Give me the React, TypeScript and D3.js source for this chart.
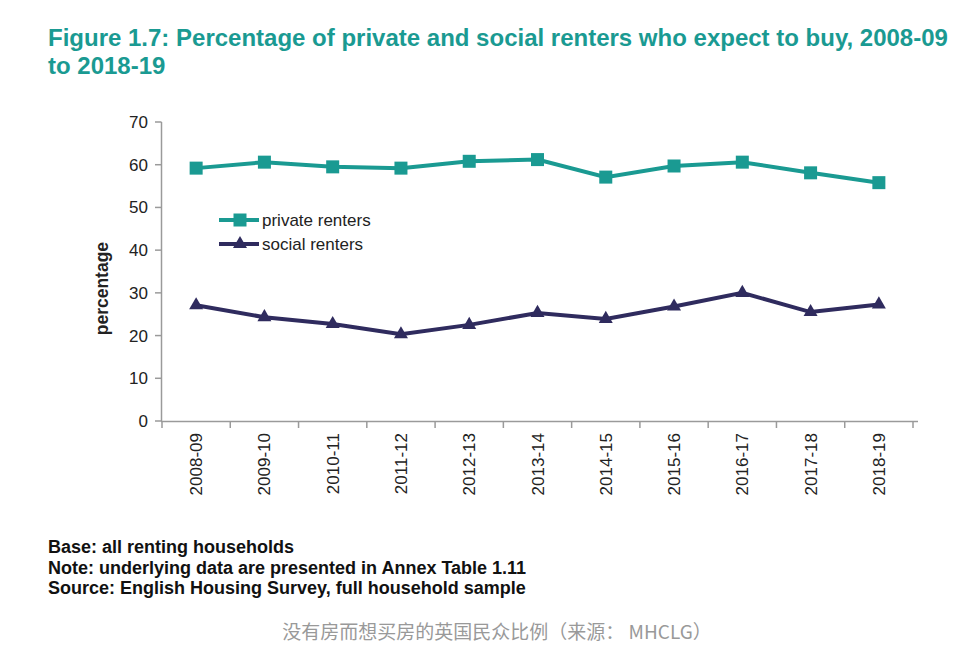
import React from "react";
import * as d3 from "d3";

const categories = ["2008-09","2009-10","2010-11","2011-12","2012-13","2013-14","2014-15","2015-16","2016-17","2017-18","2018-19"];
const privateRenters = [59.2, 60.6, 59.5, 59.2, 60.8, 61.2, 57.1, 59.7, 60.6, 58.1, 55.8];
const socialRenters = [27.1, 24.3, 22.7, 20.3, 22.5, 25.3, 23.9, 26.8, 30.0, 25.5, 27.3];
const yTicks = [0, 10, 20, 30, 40, 50, 60, 70];
const footnotes = [
  "Base: all renting households",
  "Note: underlying data are presented in Annex Table 1.11",
  "Source: English Housing Survey, full household sample",
];

const W = 958, H = 649;
const TEAL = "#1a9a92";
const NAVY = "#2f2b5e";
const AXIS = "#9a9a9a";

export default function App() {
  const x = d3.scaleBand().domain(categories).range([162, 913]);
  const y = d3.scaleLinear().domain([0, 70]).range([421, 122]);
  const cx = (c: string) => (x(c) as number) + x.bandwidth() / 2;
  const line = d3.line<number>().x((_, i) => cx(categories[i])).y((d) => y(d));
  const tri = d3.symbol().type(d3.symbolTriangle).size(85)() as string;
  const font = "'Liberation Sans', Arial, sans-serif";

  return (
    <svg width={W} height={H} style={{ position: "absolute", left: 0, top: 0, background: "#fff" }} fontFamily={font}>
      <rect width={W} height={H} fill="#fff" />
      <text x={48} y={46} fill={TEAL} fontSize={24} fontWeight="bold">
        Figure 1.7: Percentage of private and social renters who expect to buy, 2008-09
      </text>
      <text x={48} y={74} fill={TEAL} fontSize={24} fontWeight="bold">to 2018-19</text>

      {/* y axis */}
      <line x1={161.5} x2={161.5} y1={y(70)} y2={y(0)} stroke={AXIS} strokeWidth={1.5} />
      {yTicks.map((t) => (
        <g key={t}>
          <line x1={155} x2={161.5} y1={y(t)} y2={y(t)} stroke={AXIS} strokeWidth={1.5} />
          <text x={148} y={y(t) + 6} textAnchor="end" fontSize={17} fill="#222">{t}</text>
        </g>
      ))}
      <text transform={`translate(108,${y(31)}) rotate(-90)`} textAnchor="middle" fontSize={17.5} fontWeight="bold" fill="#222">percentage</text>

      {/* x axis */}
      <line x1={161} x2={918} y1={y(0) + 0.5} y2={y(0) + 0.5} stroke={AXIS} strokeWidth={1.5} />
      {categories.map((c) => (
        <g key={c}>
          <line x1={x(c) as number} x2={x(c) as number} y1={y(0)} y2={y(0) + 7} stroke={AXIS} strokeWidth={1.5} />
          <text transform={`translate(${cx(c) + 6},${y(0) + 12}) rotate(-90)`} textAnchor="end" fontSize={17} fill="#222">{c}</text>
        </g>
      ))}
      <line x1={913} x2={913} y1={y(0)} y2={y(0) + 7} stroke={AXIS} strokeWidth={1.5} />

      {/* series */}
      <path d={line(privateRenters) as string} fill="none" stroke={TEAL} strokeWidth={4} />
      {privateRenters.map((v, i) => (
        <rect key={i} x={cx(categories[i]) - 6.5} y={y(v) - 6.5} width={13} height={13} fill={TEAL} />
      ))}
      <path d={line(socialRenters) as string} fill="none" stroke={NAVY} strokeWidth={4} />
      {socialRenters.map((v, i) => (
        <path key={i} d={tri} transform={`translate(${cx(categories[i])},${y(v)})`} fill={NAVY} />
      ))}

      {/* legend */}
      <line x1={219} x2={259} y1={220} y2={220} stroke={TEAL} strokeWidth={4} />
      <rect x={233.5} y={213.5} width={13} height={13} fill={TEAL} />
      <text x={262} y={226} fontSize={17} fill="#222">private renters</text>
      <line x1={219} x2={259} y1={244} y2={244} stroke={NAVY} strokeWidth={4} />
      <path d={tri} transform="translate(240,244)" fill={NAVY} />
      <text x={262} y={250} fontSize={17} fill="#222">social renters</text>

      {/* footnotes */}
      {footnotes.map((f, i) => (
        <text key={i} x={48} y={553 + i * 20.5} fontSize={18} fontWeight="bold" fill="#111">{f}</text>
      ))}
      <text x={497} y={639} textAnchor="middle" fontSize={19} fill="#999" fontFamily="'Noto Sans CJK SC', sans-serif">没有房而想买房的英国民众比例（来源： MHCLG）</text>
    </svg>
  );
}
